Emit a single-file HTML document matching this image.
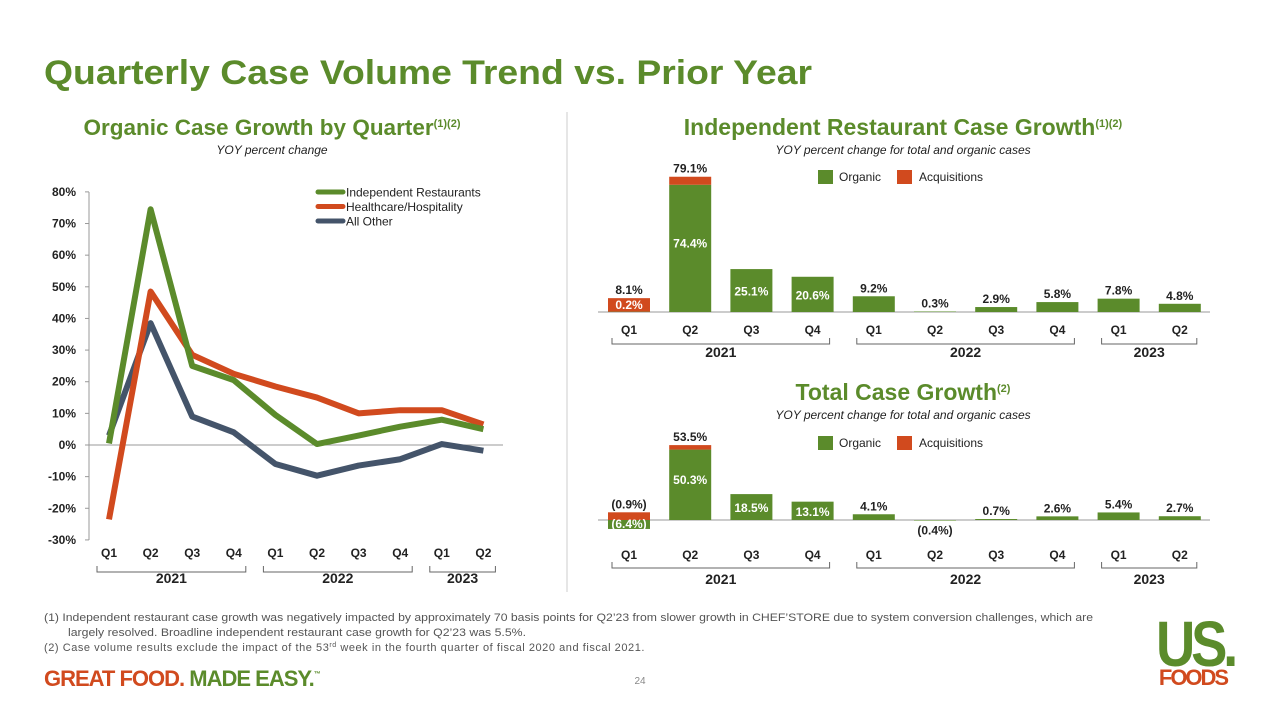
<!DOCTYPE html>
<html><head><meta charset="utf-8"><style>
body{margin:0;width:1280px;height:720px;background:#fff;overflow:hidden;font-family:"Liberation Sans",sans-serif}
svg text{font-family:"Liberation Sans",sans-serif}
</style></head><body>
<svg id="s" width="1280" height="720" viewBox="0 0 1280 720" xmlns="http://www.w3.org/2000/svg">
<text x="44" y="84" font-size="34" font-weight="bold" fill="#5B8B2B" textLength="768" lengthAdjust="spacingAndGlyphs">Quarterly Case Volume Trend vs. Prior Year</text>
<line x1="567" y1="112" x2="567" y2="592" stroke="#ccc" stroke-width="1"/>
<text x="272" y="135" text-anchor="middle" font-size="22.5" font-weight="bold" fill="#5B8B2B">Organic Case Growth by Quarter<tspan font-size="11" dy="-8">(1)(2)</tspan></text>
<text x="272" y="154" text-anchor="middle" font-size="12" font-style="italic" fill="#222">YOY percent change</text>
<text x="903" y="135" text-anchor="middle" font-size="23" font-weight="bold" fill="#5B8B2B">Independent Restaurant Case Growth<tspan font-size="11" dy="-8">(1)(2)</tspan></text>
<text x="903" y="154" text-anchor="middle" font-size="12" font-style="italic" fill="#222">YOY percent change for total and organic cases</text>
<text x="903" y="400" text-anchor="middle" font-size="23" font-weight="bold" fill="#5B8B2B">Total Case Growth<tspan font-size="11" dy="-8">(2)</tspan></text>
<text x="903" y="419" text-anchor="middle" font-size="12" font-style="italic" fill="#222">YOY percent change for total and organic cases</text>
<g id="left"></g>
<g id="top"></g>
<g id="bot"></g>
<g font-size="11" fill="#555">
<text x="44" y="621" textLength="1049" lengthAdjust="spacingAndGlyphs">(1)  Independent restaurant case growth was negatively impacted by approximately 70 basis points for Q2’23 from slower growth in CHEF’STORE due to system conversion challenges, which are</text>
<text x="68" y="636" textLength="458" lengthAdjust="spacingAndGlyphs">largely resolved. Broadline independent restaurant case growth for Q2’23 was 5.5%.</text>
<text x="44" y="651" letter-spacing="0.55">(2)  Case volume results exclude the impact of the 53<tspan font-size="7" dy="-4">rd</tspan><tspan dy="4"> week in the fourth quarter of fiscal 2020 and fiscal 2021.</tspan></text>
</g>
<text x="44" y="686" font-size="22" font-weight="bold" letter-spacing="-1"><tspan fill="#D14A1E">GREAT FOOD.</tspan><tspan fill="#5B8B2B"> MADE EASY.</tspan><tspan font-size="7" fill="#5B8B2B" dy="-10">™</tspan></text>
<text x="640" y="684" text-anchor="middle" font-size="10" fill="#888">24</text>
<text x="1195" y="666" text-anchor="middle" font-size="64" font-weight="bold" fill="#5B8B2B" letter-spacing="-5" transform="translate(1195 0) scale(0.85 1) translate(-1195 0)">US.</text>
<text x="1193" y="685" text-anchor="middle" font-size="22" font-weight="bold" fill="#D14A1E" letter-spacing="-2">FOODS</text>
</svg>
<script>
const NS="http://www.w3.org/2000/svg";
function mk(p,t,a,txt){const e=document.createElementNS(NS,t);for(const k in a)e.setAttribute(k,a[k]);if(txt!==undefined)e.textContent=txt;p.appendChild(e);return e;}
const quarters=["Q1","Q2","Q3","Q4","Q1","Q2","Q3","Q4","Q1","Q2"];
const years=["2021","2022","2023"];
const yearSpans=[[0,3],[4,7],[8,9]];
// Left line chart data
const lineNames=["Independent Restaurants","Healthcare/Hospitality","All Other"];
const indRest=[0.5,74.5,25,20.5,9.5,0.3,3,5.8,8,5];
const healthcare=[-23.5,48.5,28.5,22.5,18.5,15,10,11,11,6.5];
const allOther=[3,38.5,9,4,-6,-9.7,-6.5,-4.5,0.3,-1.8];
const yTicks=[80,70,60,50,40,30,20,10,0,-10,-20,-30];
// Top bar chart data
const topOrganic=[0.2,74.4,25.1,20.6,9.2,0.3,2.9,5.8,7.8,4.8];
const topAcq=[7.9,4.7,0,0,0,0,0,0,0,0];
const topTotalLbl=["8.1%","79.1%","","","9.2%","0.3%","2.9%","5.8%","7.8%","4.8%"];
const topInnerLbl=["0.2%","74.4%","25.1%","20.6%","","","","","",""];
// Bottom bar chart data
const botOrganic=[-6.4,50.3,18.5,13.1,4.1,-0.4,0.7,2.6,5.4,2.7];
const botAcq=[5.5,3.2,0,0,0,0,0,0,0,0];
const botTotalLbl=["(0.9%)","53.5%","","","4.1%","(0.4%)","0.7%","2.6%","5.4%","2.7%"];
const botInnerLbl=["(6.4%)","50.3%","18.5%","13.1%","","","","","",""];
const colors=["#5B8B2B","#D14A1E","#44546A"];

// Left chart
(function(){
const g=document.getElementById('left');
const y=v=>445-v*3.164, x=i=>109+i*41.6;
mk(g,'line',{x1:89,y1:192,x2:89,y2:540,stroke:'#999'});
yTicks.forEach(t=>{
  mk(g,'line',{x1:85,x2:89,y1:y(t),y2:y(t),stroke:'#999'});
  const lb=mk(g,'text',{x:76,y:y(t)+4,'text-anchor':'end','font-size':12,'font-weight':'bold',fill:'#222'},t+'%');
  
  
});
mk(g,'line',{x1:89,y1:y(0),x2:503,y2:y(0),stroke:'#999'});
[indRest,healthcare,allOther].slice().reverse().forEach((s,ri)=>{
  const si=2-ri;
  const pl=mk(g,'polyline',{points:s.map((v,i)=>x(i)+','+y(v)).join(' '),fill:'none',stroke:colors[si],'stroke-width':6,'stroke-linejoin':'round'});
  
  
});
lineNames.forEach((n,i)=>{
  const yy=192+i*14.5;
  mk(g,'line',{x1:318,x2:343,y1:yy,y2:yy,stroke:colors[i],'stroke-width':5,'stroke-linecap':'round'});
  const t=mk(g,'text',{x:346,y:yy+4.5,'font-size':12,fill:'#222'},n);
  
  
});
axisX(g,x,557,566,583,12);
})();

function axisX(g,x,qy,by,yy,half){
  quarters.forEach((q,i)=>{
    const t=mk(g,'text',{x:x(i),y:qy,'text-anchor':'middle','font-size':12,'font-weight':'bold',fill:'#222'},q);
    
    
  });
  yearSpans.forEach((sp,k)=>{
    const a=x(sp[0])-half,b=x(sp[1])+half;
    mk(g,'path',{d:`M${a} ${by} V${by+6} H${b} V${by}`,fill:'none',stroke:'#666'});
    const t=mk(g,'text',{x:(a+b)/2,y:yy,'text-anchor':'middle','font-size':14,'font-weight':'bold',fill:'#222'},years[k]);
    
    
  });
}

function bars(id,org,acq,totL,inL,base,scale,qy,by,yy,legY){
  const g=document.getElementById(id);
  const x=i=>629+i*61.2, y=v=>base-v*scale, w=42;
  mk(g,'line',{x1:598,x2:1210,y1:base,y2:base,stroke:'#999'});
  org.forEach((v,i)=>{
    const r=mk(g,'rect',{x:x(i)-w/2,y:Math.min(y(v),base),width:w,height:Math.abs(v*scale),fill:'#5B8B2B'});
    
    
    if(acq[i]>0){
      const top=v>0?v:0;
      const a=mk(g,'rect',{x:x(i)-w/2,y:y(top+acq[i]),width:w,height:acq[i]*scale,fill:'#D14A1E'});
      
      
    }
    if(totL[i]){
      const tv=Math.max(v,0)+acq[i];
      const ly=v<0&&acq[i]===0?base-v*scale+14:y(tv)-4;
      const t=mk(g,'text',{x:x(i),y:ly,'text-anchor':'middle','font-size':12,'font-weight':'bold',fill:'#222'},totL[i]);
      
      
    }
    if(inL[i]){
      const ly=i===0?(v<0?base+8:base-3):y(v/2)+5+(i===1?-6:0);
      const t=mk(g,'text',{x:x(i),y:ly,'text-anchor':'middle','font-size':12,'font-weight':'bold',fill:'#fff'},inL[i]);
      
      
    }
  });
  const l1=mk(g,'rect',{x:818,y:legY,width:15,height:14,fill:'#5B8B2B'});
  
  
  mk(g,'text',{x:839,y:legY+11,'font-size':12,fill:'#222'},'Organic');
  const l2=mk(g,'rect',{x:897,y:legY,width:15,height:14,fill:'#D14A1E'});
  
  
  mk(g,'text',{x:919,y:legY+11,'font-size':12,fill:'#222'},'Acquisitions');
  axisX(g,x,qy,by,yy,17);
}
bars('top',topOrganic,topAcq,topTotalLbl,topInnerLbl,312,1.71,334,338,357,170);
bars('bot',botOrganic,botAcq,botTotalLbl,botInnerLbl,520,1.4,559,562,584,436);
</script>
</body></html>
